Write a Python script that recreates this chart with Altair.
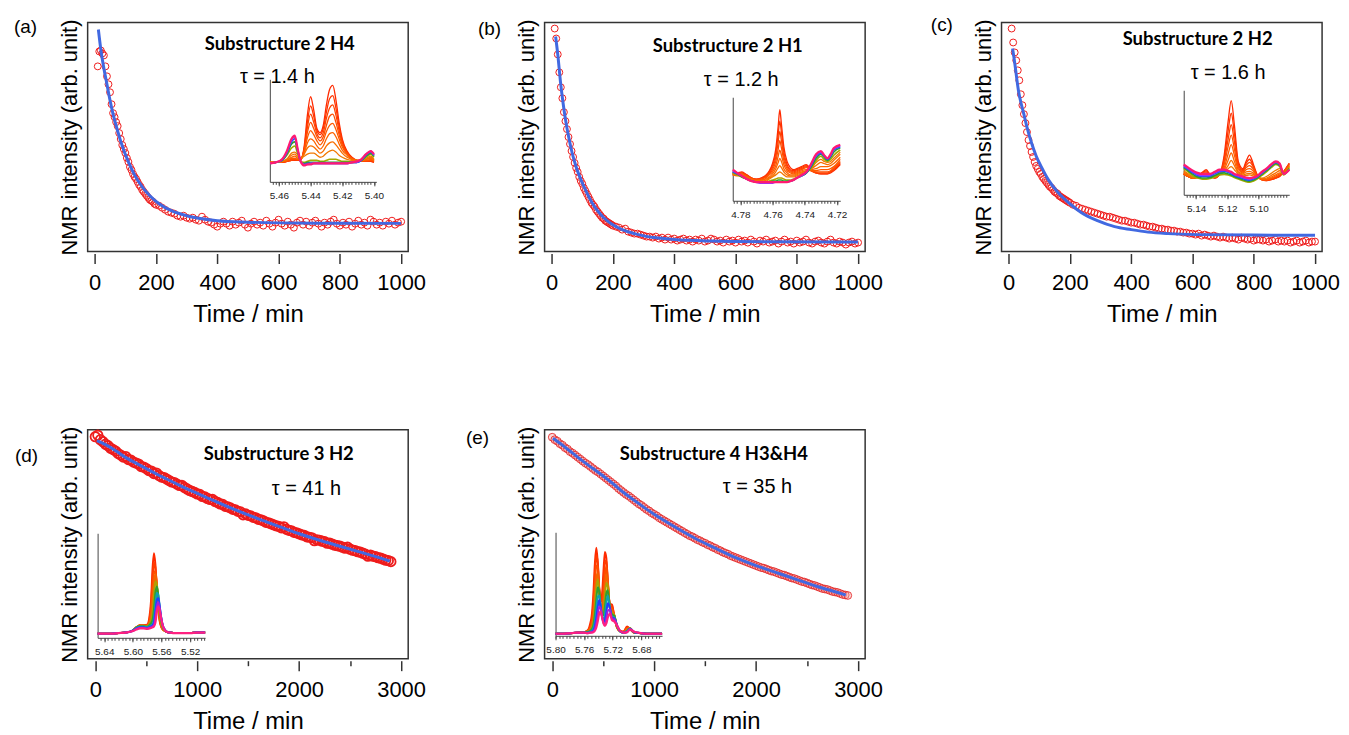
import altair as alt
import pandas as pd

RED = "#ee1c1c"
BLUE = "#4169e1"

# ---------------- main decay data (arb. intensity) ----------------
T_TOP = [10, 15, 20, 25, 30, 35, 40, 45, 50, 55, 60, 65, 70, 75, 80, 85, 90, 95, 100,
         105, 110, 115, 120, 125, 130, 135, 140, 145, 150, 155, 160, 165, 170, 175, 180,
         185, 190, 195, 200,
         210, 220, 230, 240, 250, 260, 270, 280, 290, 300,
         310, 320, 330, 340, 350, 360, 370, 380, 390, 400,
         410, 420, 430, 440, 450, 460, 470, 480, 490, 500,
         510, 520, 530, 540, 550, 560, 570, 580, 590, 600,
         610, 620, 630, 640, 650, 660, 670, 680, 690, 700,
         710, 720, 730, 740, 750, 760, 770, 780, 790, 800,
         810, 820, 830, 840, 850, 860, 870, 880, 890, 900,
         910, 920, 930, 940, 950, 960, 970, 980, 990, 1000]

A_VALS = [186, 201, 202, 199, 197, 186, 176, 168, 160, 148, 139, 135, 130, 126, 119, 113, 107, 103, 99,
          94, 90, 85, 82, 78, 75, 73, 70, 67, 65, 62, 60, 58, 56, 54, 52, 51, 50, 48, 47,
          46, 44, 42, 40, 39, 38, 36, 35, 36, 34,
          33, 34, 32, 31, 35, 32, 30, 29, 27, 25,
          28, 30, 28, 26, 30, 27, 29, 31, 27, 24,
          28, 30, 27, 29, 26, 31, 28, 25, 29, 32,
          28, 26, 30, 27, 24, 29, 31, 27, 30, 26,
          29, 31, 28, 25, 29, 27, 30, 32, 28, 26,
          29, 27, 30, 25, 28, 31, 27, 29, 26, 32,
          30, 27, 29, 26, 30, 28, 31, 27, 29, 30]

B_VALS = [224, 214, 198, 180, 165, 154, 140, 131, 123, 115, 108, 101, 95, 89, 84, 80, 75, 71, 68,
          64, 61, 58, 55, 52, 49, 47, 45, 42, 40, 38, 36, 34, 33, 31, 30, 29, 28, 27, 26,
          25, 24, 22, 23, 20, 19, 18, 18, 17, 16,
          15, 15, 14, 15, 13, 14, 12, 14, 12, 13,
          11, 12, 13, 11, 12, 10, 12, 11, 13, 10,
          11, 13, 12, 10, 11, 9, 12, 10, 11, 9,
          12, 10, 11, 9, 12, 10, 8, 11, 10, 12,
          9, 10, 11, 8, 10, 12, 9, 10, 8, 11,
          9, 10, 12, 9, 8, 10, 11, 9, 8, 10,
          12, 9, 8, 10, 9, 7, 9, 10, 8, 9]

C_VALS = [224, 210, 200, 192, 182, 172, 158, 147, 138, 129, 120, 112, 106, 100, 95, 90, 86, 83, 80,
          78, 75, 73, 71, 69, 67, 65, 64, 62, 60, 59, 58, 56, 55, 54, 53, 52, 51, 50, 49,
          47, 46, 44, 43, 42, 41, 40, 39, 38, 37,
          36, 35, 35, 34, 33, 32, 31, 31, 30, 29,
          29, 28, 27, 27, 26, 25, 25, 24, 23, 23,
          22, 22, 21, 21, 20, 20, 19, 19, 18, 18,
          17, 18, 16, 17, 16, 15, 16, 15, 14, 15,
          14, 13, 14, 13, 12, 14, 13, 12, 13, 11,
          12, 12, 11, 12, 10, 11, 12, 10, 11, 10,
          11, 9, 10, 11, 9, 10, 11, 9, 10, 10]

T_BOT = [0, 25, 50, 75, 100, 125, 150, 175, 200, 225, 250, 275, 300, 325, 350, 375,
         400, 425, 450, 475, 500, 525, 550, 575, 600, 625, 650, 675, 700, 725, 750, 775,
         800, 825, 850, 875, 900, 925, 950, 975, 1000, 1025, 1050, 1075, 1100, 1125, 1150, 1175,
         1200, 1225, 1250, 1275, 1300, 1325, 1350, 1375, 1400, 1425, 1450, 1475, 1500, 1525, 1550, 1575,
         1600, 1625, 1650, 1675, 1700, 1725, 1750, 1775, 1800, 1825, 1850, 1875, 1900, 1925, 1950, 1975,
         2000, 2025, 2050, 2075, 2100, 2125, 2150, 2175, 2200, 2225, 2250, 2275, 2300, 2325, 2350, 2375,
         2400, 2425, 2450, 2475, 2500, 2525, 2550, 2575, 2600, 2625, 2650, 2675, 2700, 2725, 2750, 2775,
         2800, 2825, 2850, 2875, 2900]

D_VALS = [223, 224.5, 220, 218, 215.5, 214, 211.5, 210, 208.5, 206, 204.5, 202.5, 203, 200, 199.5, 197.5,
          196.5, 195.5, 193, 192.5, 191, 189, 188.5, 186, 186.5, 184, 182.5, 182, 180.5, 179, 177.5, 177,
          175.5, 174, 174, 172, 170.5, 169, 168, 167, 165.5, 165, 163, 162.5, 161, 160, 160, 158,
          157, 155.5, 155, 153, 152.5, 151.5, 150, 149.5, 148, 147.5, 144.5, 145.5, 144, 143.5, 142, 141.5,
          140, 139.5, 138.5, 137, 136.5, 135.5, 134.5, 133.5, 133, 131.5, 132.5, 130, 129, 128.5, 127, 126.5,
          125.5, 124.5, 124, 122.5, 122, 121.5, 118.5, 119.5, 119, 118, 117.5, 116, 116, 115, 114, 113.5,
          113, 112, 111, 112, 110, 109, 108.5, 107.5, 107, 106, 105, 103, 104, 103, 102.5, 101.5,
          101, 100, 99, 98.5, 97.5]

E_VALS = [222.5, 220, 218.5, 216, 214.5, 212, 210.5, 208, 206.5, 204.5, 202.5, 200.5, 198.5, 196.5, 195, 193,
          191, 189, 187.5, 185.5, 183.5, 181.5, 179.5, 177.5, 175.5, 173.5, 171, 169, 167, 165, 163.5, 161.5,
          159.5, 157.5, 155.5, 154, 152, 150, 148.5, 146.5, 145, 143.5, 141.5, 140, 138.5, 137, 135.5, 134,
          132.5, 131, 129.5, 128, 126.5, 125, 123.5, 122.5, 121, 119.5, 118.5, 117, 116, 114.5, 113.5, 112,
          111, 109.5, 108.5, 107, 106, 105, 103.5, 102.5, 101.5, 100.5, 99.5, 98.5, 97.5, 96.5, 95.5, 94.5,
          93.5, 92.5, 91.5, 91, 90, 89, 88, 87.5, 86.5, 85.5, 84.5, 84, 83, 82, 81, 80.5,
          79.5, 78.5, 77.5, 77, 76, 75, 74, 73.5, 72.5, 71.5, 70.5, 70, 69.5, 68.5, 67.5, 67,
          66.5, 65.5, 64.5, 64, 63.5]

# fitted curves
FIT_A_T = [12, 20, 30, 40, 50, 60, 75, 90, 110, 130, 155, 180, 210, 250, 300, 350, 400, 500, 600, 800, 1000]
FIT_A_V = [223, 203, 184, 168, 152, 138, 121, 106, 90, 77, 65, 56, 48, 41, 36, 33, 31, 29.5, 28.8, 28.4, 28.3]
FIT_B_T = [13, 20, 29, 37, 45, 55, 67, 78, 88, 100, 115, 132, 150, 170, 197, 230, 270, 305, 350, 400, 522, 700, 1000]
FIT_B_V = [216, 198, 170, 150, 133, 116, 99, 87, 78, 69, 59, 49, 41, 34, 27.5, 22, 18, 15.5, 13.5, 12, 10.5, 9.8, 9.5]
FIT_C_T = [13, 18, 22, 27, 32, 40, 49, 60, 75, 90, 107, 130, 162, 200, 238, 290, 346, 400, 455, 520, 617, 800, 1000]
FIT_C_V = [204, 194, 185, 173, 162, 150, 139, 125, 109, 96, 85, 72, 59, 48, 39, 31, 25, 22, 19.5, 18, 17, 16.5, 16.3]
FIT_D_T = [16, 100, 200, 300, 400, 500, 600, 700, 800, 900, 1000, 1200, 1400, 1600, 1800, 2000, 2200, 2400, 2600, 2800, 2890]
FIT_D_V = [219, 215, 209, 202, 196.5, 191, 185.5, 180.5, 175.5, 170.5, 166, 157, 148.5, 140.5, 133, 125.5, 119, 113, 107, 101, 98]
FIT_E_T = [7, 100, 200, 300, 400, 500, 600, 700, 800, 900, 1000, 1200, 1400, 1600, 1800, 2000, 2200, 2400, 2600, 2800, 2880]
FIT_E_V = [221.5, 214.5, 206.5, 198.5, 191, 183.5, 175.5, 167, 159.5, 152, 145, 132.5, 121, 111, 101.5, 93.5, 86.5, 79.5, 72.5, 66.5, 64]

# ---------------- inset spectra (ppm, intensity 0-100 of inset height) ----------------
PPM_A = [5.4655, 5.462, 5.458, 5.455, 5.452, 5.450, 5.448, 5.446, 5.444, 5.442, 5.440, 5.438, 5.436, 5.434,
         5.432, 5.430, 5.428, 5.426, 5.424, 5.422, 5.420, 5.417, 5.414, 5.411, 5.408, 5.405, 5.402, 5.400]
SPEC_A = [
    [19, 19, 19, 20, 21, 21, 21, 22, 35, 65, 83, 70, 52, 48, 55, 75, 90, 94, 80, 58, 42, 30, 24, 21, 20, 20, 20, 19],
    [19, 19, 19, 20, 21, 21, 21, 22, 33, 58, 74, 64, 50, 46, 52, 68, 81, 84, 72, 54, 40, 29, 24, 21, 20, 20, 20, 19],
    [19, 19, 19, 20, 21, 22, 21, 22, 32, 53, 66, 58, 47, 43, 48, 62, 72, 75, 65, 50, 38, 28, 23, 21, 20, 20, 21, 20],
    [19, 19, 20, 20, 22, 22, 22, 23, 31, 48, 58, 52, 44, 40, 44, 55, 64, 66, 58, 46, 36, 28, 23, 21, 20, 21, 21, 20],
    [19, 19, 20, 21, 23, 23, 22, 23, 30, 43, 50, 46, 40, 36, 40, 49, 55, 57, 51, 42, 34, 27, 23, 21, 21, 21, 22, 20],
    [19, 19, 20, 21, 24, 25, 23, 23, 28, 38, 42, 40, 35, 32, 35, 42, 47, 48, 44, 37, 31, 26, 22, 21, 21, 22, 23, 21],
    [19, 19, 20, 22, 26, 27, 24, 23, 27, 33, 35, 34, 31, 28, 30, 35, 38, 39, 36, 32, 28, 24, 22, 21, 21, 22, 24, 21],
    [19, 19, 20, 22, 28, 29, 26, 23, 25, 27, 28, 28, 26, 24, 25, 28, 30, 31, 29, 26, 24, 22, 21, 21, 21, 23, 25, 22],
    [18, 19, 21, 26, 33, 35, 27, 20, 19, 20, 21, 21, 21, 20, 20, 21, 22, 22, 22, 21, 20, 20, 19, 20, 21, 24, 27, 24],
    [18, 19, 21, 27, 37, 39, 29, 19, 18, 19, 19, 19, 19, 19, 19, 19, 19, 19, 19, 19, 19, 19, 19, 19, 21, 25, 28, 25],
    [18, 19, 21, 28, 39, 42, 30, 19, 17, 18, 18, 18, 18, 18, 18, 18, 18, 18, 18, 18, 18, 18, 19, 19, 21, 26, 29, 26],
    [18, 19, 22, 29, 41, 44, 31, 19, 17, 17, 18, 18, 18, 18, 18, 18, 18, 18, 18, 18, 18, 18, 19, 19, 22, 27, 30, 26],
    [18, 19, 22, 30, 42, 45, 31, 19, 16, 17, 17, 18, 18, 18, 18, 18, 18, 18, 18, 18, 18, 18, 19, 20, 22, 27, 30, 27],
]

PPM_B = [4.7847, 4.782, 4.779, 4.776, 4.773, 4.770, 4.767, 4.764, 4.762, 4.760, 4.758, 4.7565, 4.7555, 4.7545,
         4.753, 4.751, 4.749, 4.747, 4.745, 4.742, 4.739, 4.736, 4.733, 4.730, 4.728, 4.726, 4.724, 4.722, 4.718]
SPEC_B = [
    [27, 27, 28, 25, 22, 21, 22, 25, 29, 36, 50, 72, 88, 74, 52, 38, 32, 30, 31, 33, 35, 30, 27, 26, 26, 26, 27, 29, 35],
    [26, 27, 27, 25, 22, 21, 22, 24, 28, 34, 46, 64, 77, 66, 47, 35, 30, 29, 30, 32, 34, 29, 27, 26, 26, 26, 28, 30, 36],
    [26, 26, 27, 24, 22, 20, 21, 24, 27, 32, 42, 57, 67, 58, 43, 33, 29, 28, 29, 31, 33, 29, 27, 27, 27, 27, 28, 31, 37],
    [26, 26, 26, 24, 21, 20, 21, 23, 26, 30, 38, 50, 58, 51, 39, 31, 28, 27, 28, 30, 32, 29, 28, 28, 28, 28, 29, 32, 38],
    [25, 25, 25, 23, 21, 20, 20, 22, 25, 28, 34, 43, 49, 44, 35, 29, 27, 26, 27, 29, 30, 29, 29, 30, 30, 30, 31, 33, 40],
    [25, 25, 25, 23, 21, 19, 20, 21, 23, 26, 31, 37, 41, 38, 31, 27, 25, 25, 26, 28, 29, 30, 31, 33, 33, 33, 34, 36, 42],
    [25, 24, 24, 22, 20, 19, 19, 20, 22, 24, 28, 32, 34, 32, 28, 25, 24, 24, 25, 27, 29, 31, 34, 37, 36, 35, 36, 39, 45],
    [26, 25, 24, 22, 20, 19, 19, 19, 21, 23, 25, 27, 28, 27, 25, 23, 23, 23, 24, 26, 28, 31, 37, 40, 38, 37, 38, 41, 47],
    [27, 25, 23, 21, 19, 18, 18, 18, 19, 20, 21, 22, 22, 22, 21, 20, 20, 21, 22, 24, 27, 32, 39, 43, 40, 38, 40, 44, 49],
    [28, 26, 23, 21, 19, 18, 18, 18, 18, 19, 19, 20, 20, 20, 19, 19, 19, 20, 22, 24, 27, 33, 41, 45, 42, 39, 42, 47, 51],
    [28, 26, 24, 21, 19, 18, 17, 17, 17, 18, 18, 18, 18, 18, 18, 18, 19, 20, 22, 24, 27, 34, 43, 46, 43, 40, 43, 49, 52],
    [29, 27, 24, 21, 19, 18, 17, 17, 17, 17, 18, 18, 18, 18, 18, 18, 19, 20, 22, 24, 28, 35, 44, 47, 44, 41, 44, 50, 53],
    [30, 27, 24, 21, 19, 18, 18, 18, 18, 18, 18, 18, 18, 18, 18, 18, 19, 20, 22, 25, 28, 36, 45, 48, 44, 41, 45, 51, 54],
]

PPM_C = [5.1479, 5.145, 5.142, 5.139, 5.136, 5.1335, 5.131, 5.128, 5.125, 5.122, 5.1195, 5.1175, 5.1155,
         5.113, 5.110, 5.108, 5.1058, 5.1035, 5.101, 5.098, 5.095, 5.092, 5.089, 5.0865, 5.084, 5.0804]
SPEC_C = [
    [20, 17.5, 16, 17.5, 21.5, 24, 19, 16, 19.5, 38, 70, 90, 67, 32, 25, 32, 38, 30, 19.5, 14.5, 13.5, 14.5, 16, 17.5, 22, 30],
    [20, 17.5, 16, 17.5, 21, 23, 19, 16, 19, 35, 61, 78, 59, 30, 24, 30, 34, 28, 19, 14.5, 13.5, 14.5, 16, 18, 22, 30],
    [20, 17.5, 16, 17.5, 21, 22, 19, 16.5, 19, 32, 53, 67, 51, 28, 23, 28, 31, 27, 19, 14.5, 14, 15, 16.5, 18.5, 22, 29],
    [20, 17.5, 16, 17, 20, 21, 18.5, 17, 19, 29, 46, 57, 44, 26, 22, 26, 28, 25, 18.5, 14.5, 14, 15.5, 17, 19, 22, 29],
    [20, 17.5, 16, 17, 19.5, 20.5, 18.5, 17, 19, 26, 39, 48, 38, 24, 21, 24, 25, 23, 18, 14.5, 14.5, 16, 18, 20, 22, 28],
    [21, 18, 16, 16.5, 19, 20, 18.5, 17.5, 19.5, 24, 33, 40, 32, 22, 20, 22, 22.5, 21, 17.5, 15, 15, 17, 19, 21, 21, 28],
    [22, 19, 16.5, 16.5, 18.5, 19.5, 18.5, 18, 20, 23, 28, 33, 28, 21, 19, 20, 20.5, 19.5, 17, 15.5, 16, 18.5, 21, 23, 21, 27],
    [23, 20, 17, 16.5, 18, 19, 18.5, 18.5, 20.5, 22, 25, 27, 24, 20, 18, 18.5, 19, 18, 16.5, 16, 17.5, 20.5, 23.5, 25, 20, 27],
    [25, 22, 18, 16, 15, 15, 15.5, 17, 19, 19.5, 19, 18, 16.5, 15, 13.5, 12.5, 12, 13, 15, 18.5, 22, 26, 29, 27, 19, 26],
    [26, 23, 19.5, 17, 16, 16, 16.5, 18.5, 20.5, 21, 20, 19, 17.5, 16, 14.5, 13.5, 13, 14, 16, 19.5, 23, 27, 30, 28, 20, 25],
    [27, 24, 21, 18.5, 17.5, 17.5, 18, 20, 22, 22.5, 21.5, 20, 18.5, 17, 15.5, 14.5, 14, 15, 17, 20.5, 24, 28, 31, 29, 20, 24],
    [28, 25, 22, 19.5, 18.5, 18.5, 19, 21, 23, 23.5, 22.5, 21, 19.5, 18, 16.5, 15.5, 15, 16, 17.5, 21, 24.5, 28.5, 31.5, 29.5, 20, 24],
    [29, 26, 23, 21, 20, 20, 20, 22, 24, 24, 23, 22, 20, 19, 17.5, 16.5, 16, 16.5, 18, 22, 25, 29, 32, 30, 20, 24],
]

PPM_D = [5.6493, 5.640, 5.630, 5.620, 5.610, 5.600, 5.595, 5.590, 5.585, 5.580, 5.577, 5.5745, 5.5725, 5.5705,
         5.5685, 5.5665, 5.5645, 5.5625, 5.5605, 5.558, 5.555, 5.552, 5.548, 5.540, 5.530, 5.520, 5.510, 5.499]
SPEC_D = [
    [4, 4, 4, 4.5, 5, 7, 10, 12, 12, 12.5, 19, 36, 66, 81, 70, 46, 27, 16, 11, 8, 6.5, 5.5, 5, 4.5, 4.5, 4.5, 5, 5],
    [4, 4, 4, 4.5, 5, 7, 10, 12, 12, 12, 17, 31, 56, 72, 67, 48, 30, 17.5, 11, 8, 6.5, 5.5, 5, 4.5, 4.5, 4.5, 5, 5],
    [4, 4, 4, 4.5, 5, 7, 10, 12, 12, 11.5, 15, 26, 45, 62, 64, 50, 31, 19, 12, 8, 6.5, 5.5, 5, 4.5, 4.5, 4.5, 5, 5],
    [4, 4, 4, 4.5, 5, 7, 10, 11.5, 11.5, 11, 14, 20, 35, 53, 61, 50, 33, 20, 12, 8, 6.5, 5.5, 5, 4.5, 4.5, 4.5, 5, 5],
    [4, 4, 4, 4.5, 5, 7, 10, 11.5, 11.5, 11, 13, 16, 24, 41, 54, 51, 37, 23, 14, 9, 6.5, 5.5, 5, 4.5, 4.5, 4.5, 5, 5],
    [4, 4, 4, 4.5, 5, 7, 10, 11, 11, 10.5, 12, 14, 17, 27, 43, 49, 41, 27, 17, 10, 7, 5.5, 5, 4.5, 4.5, 4.5, 5, 5],
    [4, 4, 4, 4.5, 5, 7, 9.5, 10.5, 10.5, 10, 11, 12, 13, 18, 32, 43, 41, 30, 19.5, 11, 7.5, 5.5, 5, 4.5, 4.5, 4.5, 5, 5],
    [4, 4, 4, 4.5, 5, 7, 9, 10, 10, 9.5, 10, 11, 12, 15, 25, 36, 38, 30, 20, 11.5, 7.5, 5.5, 5, 4.5, 4.5, 4.5, 5, 5],
    [4, 4, 4, 4.5, 5, 6.5, 8.5, 9.5, 9.5, 9, 9.5, 10, 11, 12, 19, 30, 34, 28.5, 19.5, 11.5, 7.5, 5.5, 5, 4.5, 4.5, 4.5, 5, 5],
    [4, 4, 4, 4.5, 5, 6.5, 8, 9, 9, 8.5, 9, 9.5, 10, 11, 14.5, 25, 30, 26, 18.5, 11, 7, 5.5, 5, 4.5, 4.5, 4.5, 5, 5],
]

PPM_E = [5.800, 5.790, 5.780, 5.770, 5.760, 5.755, 5.752, 5.749, 5.747, 5.745, 5.743, 5.741, 5.739, 5.737,
         5.735, 5.733, 5.731, 5.729, 5.727, 5.724, 5.721, 5.718, 5.714, 5.710, 5.705, 5.700, 5.696, 5.690,
         5.680, 5.670, 5.6511]
SPEC_E = [
    [2, 2, 2.5, 3, 3.5, 5, 10.5, 22, 41.5, 69.5, 85, 70.5, 45, 34, 40, 62, 81, 75, 51, 31, 30, 19, 8, 5, 4, 9, 6.5, 3, 2.5, 2, 2],
    [2, 2, 2.5, 3, 3.5, 5.5, 8, 17, 32, 59.5, 77.5, 71, 47, 33, 34, 50, 71, 73, 53, 29, 28, 20, 8, 4.5, 4, 8, 7, 3, 2.5, 2, 2],
    [2, 2, 2.5, 3, 3.5, 5, 7, 13, 25, 47.5, 68, 66, 45.5, 30, 27.5, 38.5, 58.5, 67, 53.5, 28, 26, 20, 8, 4.5, 3.5, 7, 7, 3, 2.5, 2, 2],
    [2, 2, 2.5, 3, 3.5, 4.5, 6, 10.5, 19, 36.5, 56, 60.5, 44.5, 29, 23.5, 30.5, 46.5, 59.5, 51, 27.5, 24, 20, 8.5, 4.5, 3.5, 6.5, 7.5, 3, 2.5, 2, 2],
    [2, 2, 2.5, 3, 3.5, 4, 5, 8.5, 14, 27.5, 46, 54.5, 43.5, 28, 21, 24.5, 37, 51, 48, 26.5, 22, 20, 9, 4.5, 3, 5.5, 7, 3.5, 2.5, 2, 2],
    [2, 2, 2.5, 3, 3.5, 3.5, 4.5, 6.5, 10.5, 20, 34.5, 47, 43, 29, 20, 19.5, 27.5, 41, 44, 26.5, 20.5, 19.5, 9.5, 4.5, 3, 4.5, 7, 3.5, 2.5, 2, 2],
    [2, 2, 2.5, 3, 3, 3, 4, 5, 7.5, 14, 25, 37.5, 39, 29, 19, 15.5, 20.5, 31.5, 39, 26.5, 18, 18, 9.5, 4.5, 3, 4.5, 7, 3.5, 2.5, 2, 2],
    [2, 2, 2.5, 3, 3, 3, 3.5, 4, 5.5, 9, 17, 28, 34.5, 28.5, 18.5, 13.5, 15, 22.5, 31.5, 27, 17, 17, 10, 4.5, 3, 4, 6.5, 3.5, 2.5, 2, 2],
    [2, 2, 2.5, 3, 3, 2.5, 3, 3.5, 4.5, 6.5, 12, 20, 28, 26.5, 18.5, 12.5, 12, 16.5, 24, 25.5, 16, 16, 10, 5, 3, 3.5, 6.5, 4, 2.5, 2, 2],
    [2, 2, 2.5, 3, 3, 2.5, 3, 3, 3.5, 5, 8, 14, 21.5, 23.5, 18, 12, 9.5, 12, 17.5, 21.5, 15, 14, 10, 5, 3, 3.5, 6, 4, 2.5, 2, 2],
]

C13 = ["#ff2a00", "#ff3600", "#ff4200", "#ff4e00", "#ff5a00", "#fd6400", "#f86e00", "#f27800",
       "#a8a800", "#2ca02c", "#2050ff", "#9932ff", "#ff1a70"]
W13 = [1.3, 1.3, 1.3, 1.3, 1.3, 1.3, 1.3, 1.3, 1.6, 1.6, 1.6, 1.6, 2.2]
C10 = ["#ff2a00", "#ff3c00", "#ff4e00", "#f46400", "#b0a000", "#30a030", "#10a0b0", "#2040ff", "#a020e0", "#ff2080"]
W10 = [2, 2, 2, 2, 2, 2, 2, 2, 2, 2.2]

TOP_TICKS = [0, 200, 400, 600, 800, 1000]
BOT_TICKS = [0, 1000, 2000, 3000]
BOT_MINOR = [500, 1500, 2500]


def ticks_between(lo, hi, step):
    n = int(round((hi - lo) / step))
    return [round(lo + i * step, 4) for i in range(n + 1)]


MINOR_A = ticks_between(5.400, 5.464, 0.002)
MINOR_B = ticks_between(4.720, 4.784, 0.002)
MINOR_C = ticks_between(5.082, 5.146, 0.002)
MINOR_D = ticks_between(5.500, 5.645, 0.005)
MINOR_E = ticks_between(5.655, 5.800, 0.005)

W, H = 322, 230

STYLE_TOP = dict(shape="circle", filled=False, color=RED, size=48, strokeWidth=1, opacity=1)
STYLE_D = dict(shape="circle", filled=False, color=RED, size=90, strokeWidth=1.8, opacity=1)
STYLE_E = dict(shape="circle", filled=True, fill="#f4a0a0", fillOpacity=0.4, stroke="#e32222",
               strokeWidth=1, strokeOpacity=0.85, size=60)

PANELS = [
    dict(label="(a)", lab=(-74, 4), title="Substructure 2 H4", tit=(193, 22), tau="τ = 1.4 h", taup=(153, 55),
         t=T_TOP, v=A_VALS, ft=FIT_A_T, fv=FIT_A_V, xdom=[-23, 1023], ticks=TOP_TICKS, minor_t=None, style=STYLE_TOP,
         ppm=PPM_A, spec=SPEC_A, pdom=[5.4657, 5.3985], prange=[183, 290], vy=[160, 57],
         major=[5.46, 5.44, 5.42, 5.40], minor=MINOR_A, colors=C13, widths=W13),
    dict(label="(b)", lab=(-67, 6), title="Substructure 2 H1", tit=(184, 24), tau="τ = 1.2 h", taup=(160, 58),
         t=T_TOP, v=B_VALS, ft=FIT_B_T, fv=FIT_B_V, xdom=[-23, 1023], ticks=TOP_TICKS, minor_t=None, style=STYLE_TOP,
         ppm=PPM_B, spec=SPEC_B, pdom=[4.7847, 4.718], prange=[189, 297], vy=[179, 75],
         major=[4.78, 4.76, 4.74, 4.72], minor=MINOR_B, colors=C13, widths=W13),
    dict(label="(c)", lab=(-71, 2), title="Substructure 2 H2", tit=(197, 17), tau="τ = 1.6 h", taup=(190, 51),
         t=T_TOP, v=C_VALS, ft=FIT_C_T, fv=FIT_C_V, xdom=[-23, 1023], ticks=TOP_TICKS, minor_t=None, style=STYLE_TOP,
         ppm=PPM_C, spec=SPEC_C, pdom=[5.1479, 5.0804], prange=[183, 289], vy=[173, 68],
         major=[5.14, 5.12, 5.10], minor=MINOR_C, colors=C13, widths=W13),
    dict(label="(d)", lab=(-73, 26), title="Substructure 3 H2", tit=(192, 24), tau="τ = 41 h", taup=(185, 60),
         t=T_BOT, v=D_VALS, ft=FIT_D_T, fv=FIT_D_V, xdom=[-75, 3070], ticks=BOT_TICKS, minor_t=BOT_MINOR, style=STYLE_D,
         ppm=PPM_D, spec=SPEC_D, pdom=[5.6493, 5.499], prange=[10, 118], vy=[209, 104],
         major=[5.64, 5.60, 5.56, 5.52], minor=MINOR_D, colors=C10, widths=W10),
    dict(label="(e)", lab=(-79, 8), title="Substructure 4 H3&H4", tit=(170, 24), tau="τ = 35 h", taup=(179, 58),
         t=T_BOT, v=E_VALS, ft=FIT_E_T, fv=FIT_E_V, xdom=[-75, 3070], ticks=BOT_TICKS, minor_t=BOT_MINOR, style=STYLE_E,
         ppm=PPM_E, spec=SPEC_E, pdom=[5.80, 5.6511], prange=[11, 118], vy=[207, 103],
         major=[5.80, 5.76, 5.72, 5.68], minor=MINOR_E, colors=C10, widths=W10),
]


def text_layer(s, x, y, size, font="Liberation Sans", weight="normal", align="left"):
    return alt.Chart(pd.DataFrame({"s": [s]})).mark_text(
        align=align, baseline="middle", fontSize=size, font=font, fontWeight=weight, color="black"
    ).encode(x=alt.value(x), y=alt.value(y), text="s:N")


def spectra_frame(ppm, spec, widths):
    rows = []
    for k, vals in enumerate(spec):
        for p, v in zip(ppm, vals):
            rows.append({"ppm": p, "v": v, "k": k, "w": widths[k]})
    return pd.DataFrame(rows)


def make_panel(c):
    xs = alt.Scale(domain=c["xdom"], nice=False, zero=False)
    ys = alt.Scale(domain=[0, H], nice=False, zero=False)
    n = min(len(c["t"]), len(c["v"]))
    pts_df = pd.DataFrame({"t": c["t"][:n], "I": c["v"][:n]})
    fit_df = pd.DataFrame({"t": c["ft"], "I": c["fv"]})

    xaxis = alt.Axis(values=c["ticks"], title="Time / min", orient="bottom", offset=2, domain=False, grid=False,
                     tickSize=10, tickWidth=1.5, tickColor="#333333", labelFontSize=22, labelColor="black",
                     labelPadding=9, labelFlush=False, labelOverlap=False, format="d",
                     titleFontSize=24, titleFontWeight="normal", titleColor="black", titlePadding=9)
    yaxis = alt.Axis(title="NMR intensity (arb. unit)", orient="left", labels=False, ticks=False, domain=False,
                     grid=False, titleFontSize=22, titleFontWeight="normal", titleColor="black", titlePadding=6)
    pts = alt.Chart(pts_df).mark_point(**c["style"]).encode(
        x=alt.X("t:Q", scale=xs, axis=xaxis),
        y=alt.Y("I:Q", scale=ys, axis=yaxis),
    )
    if c["minor_t"]:
        faxis = alt.Axis(values=c["minor_t"], labels=False, title=None, orient="bottom", offset=2, domain=False,
                         grid=False, tickSize=5, tickWidth=1.5, tickColor="#333333")
    else:
        faxis = None
    fit = alt.Chart(fit_df).mark_line(color=BLUE, strokeWidth=3, interpolate="monotone").encode(
        x=alt.X("t:Q", scale=xs, axis=faxis),
        y=alt.Y("I:Q", scale=ys, axis=None),
    )

    pxs = alt.Scale(domain=c["pdom"], range=c["prange"], nice=False, zero=False)
    pys = alt.Scale(domain=[0, 100], range=c["vy"], nice=False, zero=False)
    xoff = c["vy"][0] - H
    spec = alt.Chart(spectra_frame(c["ppm"], c["spec"], c["widths"])).mark_line(interpolate="monotone").encode(
        x=alt.X("ppm:Q", scale=pxs,
                axis=alt.Axis(values=c["major"], format=".2f", orient="bottom", offset=xoff, title=None, grid=False,
                              domain=True, domainColor="#444444", domainWidth=1, tickSize=4, tickColor="#444444",
                              tickWidth=1, labelFontSize=10, labelPadding=4.5, labelColor="#222222",
                              labelFlush=False, labelOverlap=False)),
        y=alt.Y("v:Q", scale=pys,
                axis=alt.Axis(orient="left", offset=-c["prange"][0], title=None, labels=False, ticks=False,
                              grid=False, domain=True, domainColor="#444444", domainWidth=1)),
        color=alt.Color("k:O", scale=alt.Scale(domain=list(range(len(c["colors"]))), range=c["colors"]), legend=None),
        strokeWidth=alt.StrokeWidth("w:Q", scale=None),
    )
    minor = alt.Chart(pd.DataFrame({"ppm": c["minor"]})).mark_point(opacity=0).encode(
        x=alt.X("ppm:Q", scale=pxs,
                axis=alt.Axis(values=c["minor"], labels=False, title=None, orient="bottom", offset=xoff,
                              grid=False, domain=False, tickSize=2.5, tickColor="#444444", tickWidth=1)),
    )

    lab = text_layer(c["label"], c["lab"][0], c["lab"][1], 19)
    tit = text_layer(c["title"], c["tit"][0], c["tit"][1], 18.5, font="Lato", weight="bold", align="center")
    tau = text_layer(c["tau"], c["taup"][0], c["taup"][1], 20)

    return alt.layer(pts, fit, spec, minor, lab, tit, tau).resolve_scale(
        x="independent", y="independent"
    ).properties(width=W, height=H)


panels = [make_panel(c) for c in PANELS]

chart = alt.concat(
    *panels, columns=3, spacing={"row": 179, "column": 137}, bounds="flush",
    padding={"left": 5, "top": 5, "right": 0, "bottom": 0},
).resolve_scale(color="independent").configure(font="Liberation Sans").configure_view(
    stroke="#333333", strokeWidth=1.5
)

chart.save("out.html", embed_options={"renderer": "svg", "actions": False})
